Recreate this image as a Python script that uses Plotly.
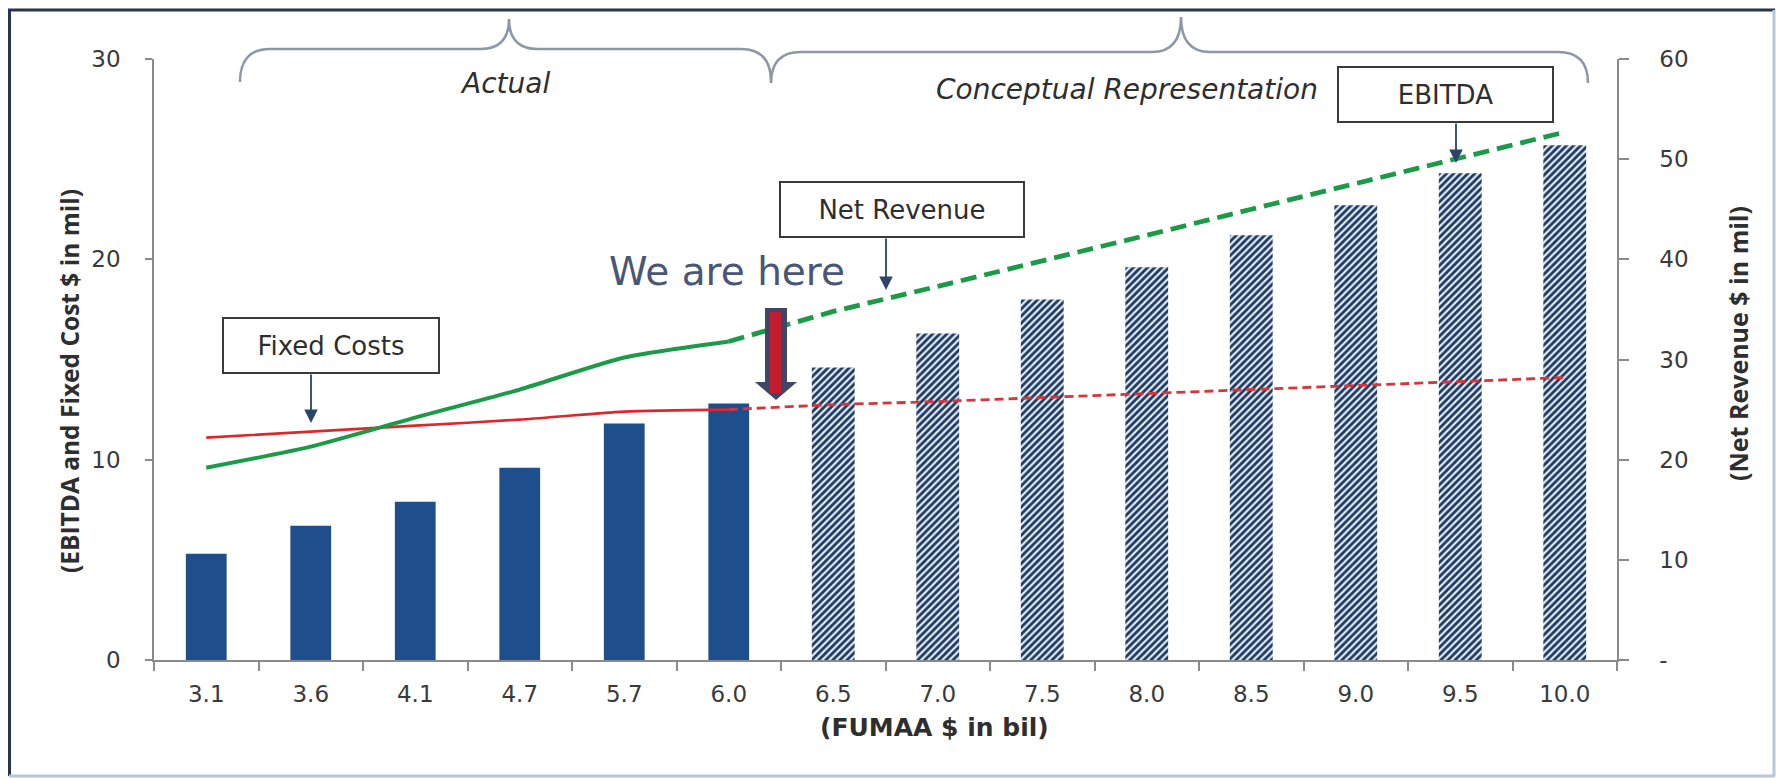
import plotly.graph_objects as go

# ---------------- data ----------------
categories = ["3.1", "3.6", "4.1", "4.7", "5.7", "6.0", "6.5",
              "7.0", "7.5", "8.0", "8.5", "9.0", "9.5", "10.0"]
actual_cats = categories[:6]
projected_cats = categories[6:]
line_proj_cats = categories[5:]

ebitda_actual = [5.3, 6.7, 7.9, 9.6, 11.8, 12.8]
ebitda_projected = [14.6, 16.3, 18.0, 19.6, 21.2, 22.7, 24.3, 25.7]
fixed_cost_actual = [11.1, 11.4, 11.7, 12.0, 12.4, 12.5]
fixed_cost_projected = [12.5, 12.75, 12.9, 13.1, 13.3, 13.5, 13.7, 13.9, 14.1]
net_revenue_actual = [19.2, 21.3, 24.2, 27.0, 30.2, 31.8]
net_revenue_projected = [31.8, 34.8, 37.3, 39.8, 42.4, 45.0, 47.6, 50.1, 52.7]

left_tickvals = [0, 10, 20, 30]
right_tickvals = [0, 10, 20, 30, 40, 50, 60]
right_ticktext = ["-", "10", "20", "30", "40", "50", "60"]

# ---------------- geometry helpers ----------------
W, H = 1780, 778
ML, MR, MT, MB = 154, 163, 59, 118
PW = W - ML - MR
PH = H - MT - MB


def px(x):
    return (x - ML) / PW


def py(y):
    return (H - MB - y) / PH


def pt(x, y):
    return f"{px(x):.5f},{py(y):.5f}"


TICK_FONT = dict(family="DejaVu Sans", size=23, color="#3a3a3a")
AXIS_COLOR = "#8a8a8a"

fig = go.Figure()

fig.add_trace(go.Bar(
    x=actual_cats, y=ebitda_actual, width=0.39,
    marker=dict(color="#1f4e8c", line=dict(width=0)),
    showlegend=False, hoverinfo="skip"))
fig.add_trace(go.Bar(
    x=projected_cats, y=ebitda_projected, width=0.41,
    marker=dict(color="#e2ecf7", line=dict(width=0),
                pattern=dict(shape="/", fgcolor="#1f3a5f", bgcolor="#e2ecf7",
                             size=5, solidity=0.55, fillmode="replace")),
    showlegend=False, hoverinfo="skip"))

fig.add_trace(go.Scatter(
    x=actual_cats, y=fixed_cost_actual, mode="lines",
    line=dict(color="#e0262b", width=2.6, shape="spline", smoothing=0.6),
    showlegend=False, hoverinfo="skip"))
fig.add_trace(go.Scatter(
    x=line_proj_cats, y=fixed_cost_projected, mode="lines",
    line=dict(color="#d8343c", width=2.8, dash="9px,5px"),
    showlegend=False, hoverinfo="skip"))

fig.add_trace(go.Scatter(
    x=actual_cats, y=net_revenue_actual, mode="lines", yaxis="y2",
    line=dict(color="#1c9a48", width=4, shape="spline", smoothing=0.6),
    showlegend=False, hoverinfo="skip"))
fig.add_trace(go.Scatter(
    x=line_proj_cats, y=net_revenue_projected, mode="lines", yaxis="y2",
    line=dict(color="#1c9a48", width=4.8, dash="16px,8px"),
    showlegend=False, hoverinfo="skip"))

# ---------------- shapes ----------------
shapes = []


def brace(x0, x1, xpeak, ybase, ytop, ypeak, r=30, rp=29):
    return (f"M {pt(x0, ybase)} Q {pt(x0, ytop)} {pt(x0 + r, ytop)} "
            f"L {pt(xpeak - rp, ytop)} Q {pt(xpeak, ytop)} {pt(xpeak, ypeak)} "
            f"Q {pt(xpeak, ytop)} {pt(xpeak + rp, ytop)} "
            f"L {pt(x1 - r, ytop)} Q {pt(x1, ytop)} {pt(x1, ybase)}")


BRACE_COLOR = "#8d97a5"
shapes.append(dict(type="path", xref="paper", yref="paper",
                   path=brace(240, 771, 509, 82, 49, 19),
                   line=dict(color=BRACE_COLOR, width=2.5)))
shapes.append(dict(type="path", xref="paper", yref="paper",
                   path=brace(771, 1588, 1181, 83, 52, 17),
                   line=dict(color=BRACE_COLOR, width=2.5)))

# "We are here" arrow
arrow_path = ("M " + pt(765, 308) + " L " + pt(787, 308) + " L " + pt(787, 382) +
              " L " + pt(797, 382) + " L " + pt(776, 400) + " L " + pt(755, 382) +
              " L " + pt(765, 382) + " Z")
shapes.append(dict(type="path", xref="paper", yref="paper", path=arrow_path,
                   fillcolor="#404766", line=dict(width=0)))
shapes.append(dict(type="rect", xref="paper", yref="paper",
                   x0=px(770), x1=px(781), y0=py(393), y1=py(312),
                   fillcolor="#c41e2e", line=dict(width=0)))

# outer frame
shapes.append(dict(type="line", xref="paper", yref="paper",
                   x0=px(8), x1=px(1775), y0=py(10), y1=py(10),
                   line=dict(color="#26364f", width=3)))
shapes.append(dict(type="line", xref="paper", yref="paper",
                   x0=px(9.5), x1=px(9.5), y0=py(10), y1=py(776),
                   line=dict(color="#26364f", width=3)))
shapes.append(dict(type="line", xref="paper", yref="paper",
                   x0=px(1774), x1=px(1774), y0=py(10), y1=py(776),
                   line=dict(color="#b4c7db", width=3)))
shapes.append(dict(type="line", xref="paper", yref="paper",
                   x0=px(9), x1=px(1775), y0=py(776), y1=py(776),
                   line=dict(color="#b4c7db", width=3)))

# ---------------- annotations ----------------
ann = []


def box(text, x0, x1, y0, y1):
    ann.append(dict(xref="paper", yref="paper", x=px((x0 + x1) / 2),
                    y=py((y0 + y1) / 2), xanchor="center", yanchor="middle",
                    text=text, showarrow=False, width=x1 - x0 - 2,
                    height=y1 - y0 - 2, borderpad=0, bordercolor="#3a3a3a",
                    borderwidth=2, bgcolor="white",
                    font=dict(family="DejaVu Sans", size=26, color="#2e2e2e")))


def arrow(x, y_tail, y_tip):
    ann.append(dict(xref="paper", yref="paper", x=px(x), y=py(y_tip),
                    ax=0, ay=-(y_tip - y_tail), text="", showarrow=True,
                    arrowhead=2, arrowsize=1.5, arrowwidth=1.8,
                    arrowcolor="#2b4569"))


box("Fixed Costs", 223, 439, 318, 373)
arrow(311, 373, 423)
box("Net Revenue", 780, 1024, 182, 237)
arrow(886, 237, 290)
box("EBITDA", 1338, 1553, 67, 122)
arrow(1456, 122, 163)

ann.append(dict(xref="paper", yref="paper", x=px(505), y=py(84),
                text="<i>Actual</i>", showarrow=False,
                xanchor="center", yanchor="middle",
                font=dict(family="DejaVu Sans", size=28, color="#2e2e2e")))
ann.append(dict(xref="paper", yref="paper", x=px(1127), y=py(90),
                text="<i>Conceptual Representation</i>", showarrow=False,
                xanchor="center", yanchor="middle",
                font=dict(family="DejaVu Sans", size=28, color="#2e2e2e")))
ann.append(dict(xref="paper", yref="paper", x=px(727), y=py(271),
                text="We are here", showarrow=False,
                xanchor="center", yanchor="middle",
                font=dict(family="DejaVu Sans", size=39, color="#4a5675")))

ann.append(dict(xref="paper", yref="paper", x=px(69), y=py(381),
                text="<b>(EBITDA and Fixed Cost $ in mil)</b>", textangle=-90,
                showarrow=False, xanchor="center", yanchor="middle",
                font=dict(family="Open Sans", size=24.5, color="#2e2e2e")))
ann.append(dict(xref="paper", yref="paper", x=px(1738), y=py(344),
                text="<b>(Net Revenue $ in mil)</b>", textangle=-90,
                showarrow=False, xanchor="center", yanchor="middle",
                font=dict(family="Open Sans", size=25, color="#2e2e2e")))
ann.append(dict(xref="paper", yref="paper", x=px(934), y=py(728),
                text="<b>(FUMAA $ in bil)</b>", showarrow=False,
                xanchor="center", yanchor="middle",
                font=dict(family="DejaVu Sans", size=25, color="#2e2e2e")))

fig.update_layout(
    width=W, height=H, autosize=False,
    margin=dict(l=ML, r=MR, t=MT, b=MB, pad=0),
    paper_bgcolor="white", plot_bgcolor="white",
    barmode="overlay", showlegend=False,
    xaxis=dict(type="category", categoryorder="array", categoryarray=categories,
               range=[-0.5, len(categories) - 0.5],
               showline=True, linecolor=AXIS_COLOR, linewidth=1.5,
               ticks="outside", tickson="boundaries", ticklen=9,
               tickcolor=AXIS_COLOR, tickwidth=1.5, showgrid=False,
               tickfont=TICK_FONT, ticklabelstandoff=13),
    yaxis=dict(range=[0, 30], tickvals=left_tickvals, showline=True,
               linecolor=AXIS_COLOR, linewidth=1.5, ticks="outside", ticklen=7,
               tickcolor=AXIS_COLOR, tickwidth=1.5, showgrid=False,
               zeroline=False, tickfont=TICK_FONT, ticklabelstandoff=20),
    yaxis2=dict(range=[0, 60], tickvals=right_tickvals, ticktext=right_ticktext,
                overlaying="y", side="right", showline=True,
                linecolor=AXIS_COLOR, linewidth=1.5, ticks="outside",
                ticklen=10, tickcolor=AXIS_COLOR, tickwidth=1.5,
                showgrid=False, zeroline=False, tickfont=TICK_FONT,
                ticklabelstandoff=26),
    shapes=shapes, annotations=ann,
)

fig.write_html("out.html")
